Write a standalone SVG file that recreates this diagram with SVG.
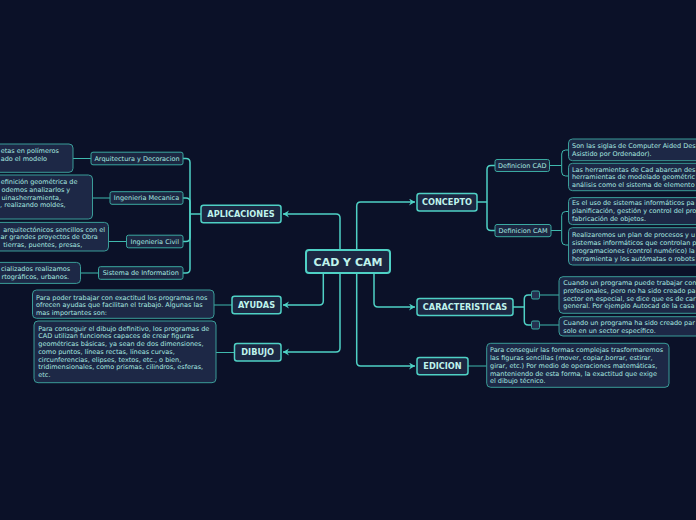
<svg xmlns="http://www.w3.org/2000/svg" width="696" height="520" viewBox="0 0 696 520">
<defs>
<style>
.bg{fill:#0b1128}
.main{fill:#1c2742;stroke:#4fd1c5;stroke-width:1.5}
.center{fill:#1c2742;stroke:#4fd1c5;stroke-width:2}
.sub{fill:#1c2742;stroke:#3aa9a1;stroke-width:1}
.leaf{fill:#1d2846;stroke:#3a9c98;stroke-width:1}
.dot{fill:#253150;stroke:#3aa9a1;stroke-width:1}
.c1{fill:none;stroke:#4fd1c5;stroke-width:1.5}
.c2{fill:none;stroke:#3fb8ad;stroke-width:1}
.h{font-family:"DejaVu Sans",Verdana,sans-serif;font-weight:bold;fill:#bff3ec;text-anchor:middle}
.s{font-family:"DejaVu Sans",Verdana,sans-serif;font-size:6.5px;fill:#a8e9e0}
.sl{font-family:"DejaVu Sans",Verdana,sans-serif;font-size:6.5px;fill:#a8e9e0;text-anchor:middle}
</style>
<marker id="arr" markerUnits="userSpaceOnUse" markerWidth="8" markerHeight="8" refX="6" refY="3.5" orient="auto">
<path d="M0,0 L6,3.5 L0,7 L2,3.5 z" fill="#4fd1c5"/>
</marker>
</defs>
<rect class="bg" x="0" y="0" width="696" height="520"/>

<g id="connectors">
<path class="c1" d="M340,250 V218 Q340,214 336,214 H283" marker-end="url(#arr)"/>
<path class="c1" d="M356.7,250 V206 Q356.7,202 360.7,202 H415" marker-end="url(#arr)"/>
<path class="c1" d="M323.3,273 V301 Q323.3,305 319.3,305 H283" marker-end="url(#arr)"/>
<path class="c1" d="M340,273 V348 Q340,352 336,352 H283" marker-end="url(#arr)"/>
<path class="c1" d="M374,273 V303 Q374,307 378,307 H415" marker-end="url(#arr)"/>
<path class="c1" d="M356.7,273 V362 Q356.7,366 360.7,366 H415" marker-end="url(#arr)"/>
<path class="c1" d="M201,214 H190"/>
<path class="c1" d="M190,214 V162.5 Q190,158.5 186,158.5 H183"/>
<path class="c1" d="M190,214 V202 Q190,198 186,198 H183"/>
<path class="c1" d="M190,214 V237.5 Q190,241.5 186,241.5 H183"/>
<path class="c1" d="M190,214 V269 Q190,273 186,273 H183"/>
<path class="c2" d="M91,158.5 H73"/>
<path class="c2" d="M110,198 H92.5"/>
<path class="c2" d="M126.5,241.5 H108.5"/>
<path class="c2" d="M98.5,273 H80.5"/>
<path class="c2" d="M232,305 H214"/>
<path class="c2" d="M234.5,352.5 H216"/>
<path class="c1" d="M477,202 H487"/>
<path class="c1" d="M487,202 V169.5 Q487,165.5 491,165.5 H495"/>
<path class="c1" d="M487,202 V226.5 Q487,230.5 491,230.5 H495"/>
<path class="c2" d="M549.5,165.5 H561.7"/>
<path class="c2" d="M561.7,165.5 V154 Q561.7,150 565.7,150 H568.5"/>
<path class="c2" d="M561.7,165.5 V172 Q561.7,176 565.7,176 H568.5"/>
<path class="c2" d="M551,230.5 H561.7"/>
<path class="c2" d="M561.7,230.5 V215.5 Q561.7,211.5 565.7,211.5 H568.5"/>
<path class="c2" d="M561.7,230.5 V241 Q561.7,245 565.7,245 H568.5"/>
<path class="c1" d="M513,307 H524.3"/>
<path class="c1" d="M524.3,307 V299 Q524.3,295 528.3,295 H531.5"/>
<path class="c1" d="M524.3,307 V321 Q524.3,325 528.3,325 H531.5"/>
<path class="c2" d="M539.5,295 H559"/>
<path class="c2" d="M539.5,325 H559"/>
<path class="c2" d="M468,366 H486.7"/>
</g>

<g id="n-center">
<rect class="center" x="306" y="250" width="84" height="23" rx="3"/>
<text class="h" x="348" y="265.5" font-size="11">CAD Y CAM</text>
</g>

<g id="n-aplicaciones">
<rect class="main" x="201" y="205.3" width="80" height="17.4" rx="2.5"/>
<text class="h" x="241" y="216.9" font-size="8.2">APLICACIONES</text>
</g>
<g id="n-ayudas">
<rect class="main" x="232" y="296.3" width="49" height="17.4" rx="2.5"/>
<text class="h" x="256.5" y="307.9" font-size="8.2">AYUDAS</text>
</g>
<g id="n-dibujo">
<rect class="main" x="234.5" y="343.5" width="46.5" height="17.4" rx="2.5"/>
<text class="h" x="257.7" y="355.1" font-size="8.2">DIBUJO</text>
</g>
<g id="n-concepto">
<rect class="main" x="417" y="193.5" width="60" height="17.4" rx="2.5"/>
<text class="h" x="447" y="205.1" font-size="8.2">CONCEPTO</text>
</g>
<g id="n-caracteristicas">
<rect class="main" x="417" y="298.4" width="96" height="17" rx="2.5"/>
<text class="h" x="465" y="309.9" font-size="8.2">CARACTERISTICAS</text>
</g>
<g id="n-edicion">
<rect class="main" x="417" y="357.4" width="51" height="17.4" rx="2.5"/>
<text class="h" x="442.5" y="369" font-size="8.2">EDICION</text>
</g>

<g id="n-arquitectura">
<rect class="sub" x="91" y="152.2" width="92" height="12.6" rx="2"/>
<text class="sl" x="137" y="160.8">Arquitectura y Decoracion</text>
</g>
<g id="n-mecanica">
<rect class="sub" x="110" y="191.7" width="73" height="12.6" rx="2"/>
<text class="sl" x="146.5" y="200.3">Ingenieria Mecanica</text>
</g>
<g id="n-civil">
<rect class="sub" x="126.5" y="235.2" width="56.5" height="12.6" rx="2"/>
<text class="sl" x="154.75" y="243.8">Ingenieria Civil</text>
</g>
<g id="n-sistema">
<rect class="sub" x="98.5" y="266.7" width="84.5" height="12.6" rx="2"/>
<text class="sl" x="140.75" y="275.3">Sistema de Information</text>
</g>

<g id="leaf-arquitectura">
<rect class="leaf" x="-20" y="144" width="93" height="28.3" rx="4"/>
<text class="s" x="0.7" y="153.3">etas en polímeros</text>
<text class="s" x="0.7" y="160.8">ado el modelo</text>
</g>
<g id="leaf-mecanica">
<rect class="leaf" x="-20" y="175" width="112.5" height="44" rx="4"/>
<text class="s" x="0.7" y="184">efinición geométrica de</text>
<text class="s" x="1.5" y="191.8">odemos analizarlos y</text>
<text class="s" x="1.5" y="199.6">uinasherramienta,</text>
<text class="s" x="0" y="207.4">, realizando moldes,</text>
</g>
<g id="leaf-civil">
<rect class="leaf" x="-20" y="222.4" width="128.5" height="28.6" rx="4"/>
<text class="s" x="3.3" y="231.6">arquitectónicos sencillos con el</text>
<text class="s" x="0.5" y="239.3">ar grandes proyectos de Obra</text>
<text class="s" x="3.3" y="247">tierras, puentes, presas,</text>
</g>
<g id="leaf-sistema">
<rect class="leaf" x="-20" y="262.4" width="100.5" height="21" rx="4"/>
<text class="s" x="1" y="270.7">cializados realizamos</text>
<text class="s" x="1.5" y="278.9">rtográficos, urbanos.</text>
</g>

<g id="leaf-ayudas">
<rect class="leaf" x="32.5" y="290" width="181.5" height="28.3" rx="4"/>
<text class="s" x="36" y="299.5">Para poder trabajar con exactitud los programas nos</text>
<text class="s" x="36" y="307.2">ofrecen ayudas que facilitan el trabajo. Algunas las</text>
<text class="s" x="36" y="314.8">mas importantes son:</text>
</g>
<g id="leaf-dibujo">
<rect class="leaf" x="34" y="321" width="182" height="61.7" rx="4"/>
<text class="s" x="38.3" y="330.6">Para conseguir el dibujo definitivo, los programas de</text>
<text class="s" x="38.3" y="338.3">CAD utilizan funciones capaces de crear figuras</text>
<text class="s" x="38.3" y="346">geométricas básicas, ya sean de dos dimensiones,</text>
<text class="s" x="38.3" y="353.8">como puntos, líneas rectas, líneas curvas,</text>
<text class="s" x="38.3" y="361.5">circunferencias, elipses, textos, etc., o bien,</text>
<text class="s" x="38.3" y="369.2">tridimensionales, como prismas, cilindros, esferas,</text>
<text class="s" x="38.3" y="377">etc.</text>
</g>

<g id="n-def-cad">
<rect class="sub" x="495" y="159.5" width="54.5" height="12" rx="2"/>
<text class="sl" x="522.2" y="167.8">Definicion CAD</text>
</g>
<g id="n-def-cam">
<rect class="sub" x="495" y="224.5" width="56" height="12.2" rx="2"/>
<text class="sl" x="523" y="232.9">Definicion CAM</text>
</g>

<g id="leaf-cad-1">
<rect class="leaf" x="568.5" y="139" width="150" height="21.7" rx="4"/>
<text class="s" x="572" y="148.3">Son las siglas de Computer Aided Des</text>
<text class="s" x="572" y="156.3">Asistido por Ordenador).</text>
</g>
<g id="leaf-cad-2">
<rect class="leaf" x="568.5" y="163.3" width="150" height="27.4" rx="4"/>
<text class="s" x="572" y="171.6">Las herramientas de Cad abarcan des</text>
<text class="s" x="572" y="179.4">herramientas de modelado geométric</text>
<text class="s" x="572" y="187.2">análisis como el sistema de elemento</text>
</g>
<g id="leaf-cam-1">
<rect class="leaf" x="568.5" y="197.6" width="150" height="27" rx="4"/>
<text class="s" x="572" y="205.2">Es el uso de sistemas informáticos pa</text>
<text class="s" x="572" y="213.1">planificación, gestión y control del pro</text>
<text class="s" x="572" y="221">fabricación de objetos.</text>
</g>
<g id="leaf-cam-2">
<rect class="leaf" x="568.5" y="227.7" width="150" height="37.3" rx="4"/>
<text class="s" x="572" y="236.6">Realizaremos un plan de procesos y u</text>
<text class="s" x="572" y="244.6">sistemas informáticos que controlan p</text>
<text class="s" x="572" y="252.6">programaciones (control numérico) la</text>
<text class="s" x="572" y="260.6">herramienta y los autómatas o robots</text>
</g>

<g id="n-car-1">
<rect class="dot" x="531.5" y="291" width="8" height="8" rx="1.5"/>
</g>
<g id="n-car-2">
<rect class="dot" x="531.5" y="321" width="8" height="8" rx="1.5"/>
</g>
<g id="leaf-car-1">
<rect class="leaf" x="559" y="276.7" width="150" height="36.6" rx="4"/>
<text class="s" x="563.3" y="285">Cuando un programa puede trabajar con</text>
<text class="s" x="563.3" y="292.8">profesionales, pero no ha sido creado pa</text>
<text class="s" x="563.3" y="300.6">sector en especial, se dice que es de car</text>
<text class="s" x="563.3" y="308.4">general. Por ejemplo Autocad de la casa</text>
</g>
<g id="leaf-car-2">
<rect class="leaf" x="559" y="316.7" width="150" height="19.3" rx="4"/>
<text class="s" x="563.3" y="325">Cuando un programa ha sido creado par</text>
<text class="s" x="563.3" y="333">solo en un sector específico.</text>
</g>

<g id="leaf-edicion">
<rect class="leaf" x="486.7" y="343.3" width="182.3" height="44" rx="4"/>
<text class="s" x="490" y="352.3">Para conseguir las formas complejas trasformaremos</text>
<text class="s" x="490" y="360">las figuras sencillas (mover, copiar,borrar, estirar,</text>
<text class="s" x="490" y="367.8">girar, etc.) Por medio de operaciones matemáticas,</text>
<text class="s" x="490" y="375.6">manteniendo de esta forma, la exactitud que exige</text>
<text class="s" x="490" y="383.3">el dibujo técnico.</text>
</g>
</svg>
